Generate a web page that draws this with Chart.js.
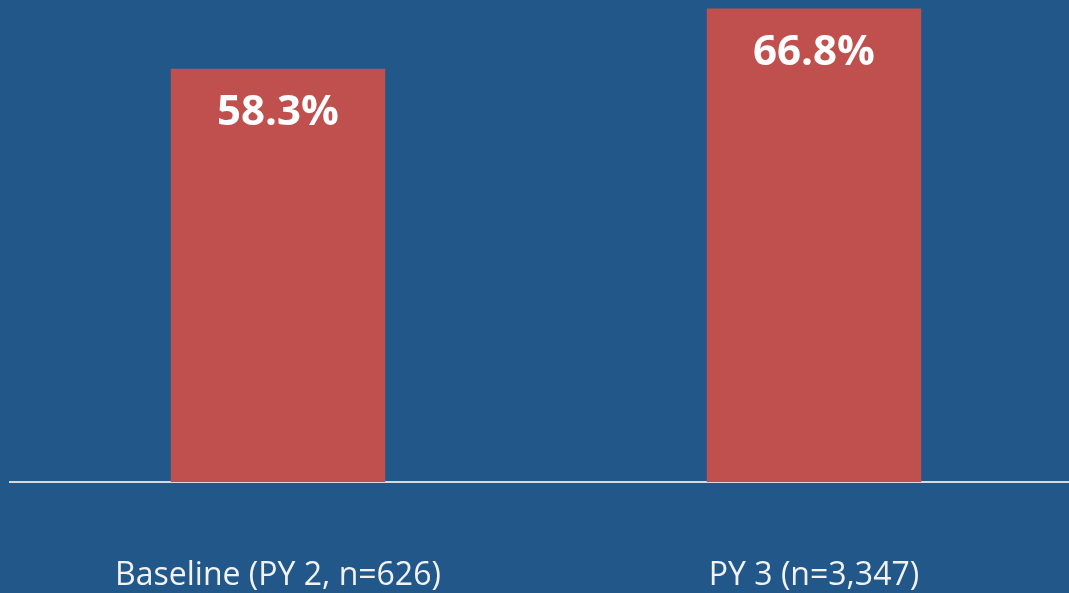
<!DOCTYPE html>
<html>
<head>
<meta charset="utf-8">
<script src="https://cdn.jsdelivr.net/npm/chart.js@4"></script>
<style>
    html, body {
        margin: 0;
        padding: 0;
        background: #22578a;
        overflow: hidden;
    }
    /* canvas is a bit larger than the window; the overflow is clipped */
    #wrap {
        width: 1082px;
        height: 670px;
    }
</style>
</head>
<body>
<div id="wrap"><canvas id="rateChart"></canvas></div>
<script>
const categories = ['Baseline (PY 2, n=626)', 'PY 3 (n=3,347)'];
const rates = [58.3, 66.8];

// Percent labels written inside the top of each bar
const barValueLabels = {
    id: 'barValueLabels',
    afterDatasetsDraw(chart) {
        const ctx = chart.ctx;
        const meta = chart.getDatasetMeta(0);
        ctx.save();
        ctx.fillStyle = '#ffffff';
        ctx.font = 'bold 42px "Open Sans"';
        ctx.textAlign = 'center';
        ctx.textBaseline = 'alphabetic';
        meta.data.forEach((bar, i) => {
            ctx.fillText(rates[i].toFixed(1) + '%', bar.x, bar.y + 56);
        });
        ctx.restore();
    }
};

function initChart() {
    const ctx = document.getElementById('rateChart').getContext('2d');

    new Chart(ctx, {
        type: 'bar',
        data: {
            labels: categories,
            datasets: [{
                data: rates,
                backgroundColor: '#c0504d',
                borderWidth: 0,
                categoryPercentage: 1,
                barPercentage: 0.4
            }]
        },
        options: {
            responsive: true,
            maintainAspectRatio: false,
            animation: false,
            layout: { padding: { left: 10, right: 0, top: 0, bottom: 0 } },
            plugins: {
                legend: { display: false },
                tooltip: { enabled: false }
            },
            scales: {
                y: {
                    display: false,
                    min: 0,
                    max: 68
                },
                x: {
                    grid: { display: false, drawTicks: false },
                    border: { display: true, color: '#d9d9d9', width: 2 },
                    ticks: {
                        color: '#f2f2f2',
                        padding: 78,
                        maxRotation: 0,
                        font: { family: '"Open Sans"', size: 32, lineHeight: 1 }
                    }
                }
            }
        },
        plugins: [barValueLabels]
    });
}

document.addEventListener('DOMContentLoaded', initChart);
</script>
</body>
</html>
